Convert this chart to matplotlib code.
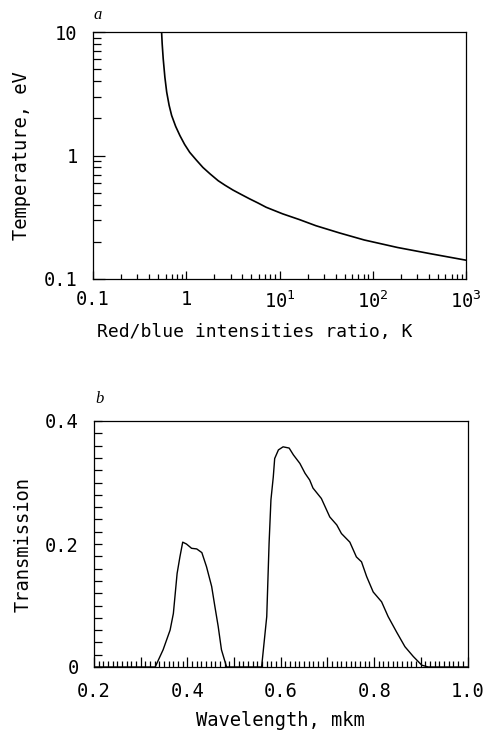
import numpy as np
import matplotlib
matplotlib.use("Agg")
import matplotlib.pyplot as plt
from matplotlib.ticker import FixedLocator, LogLocator, MultipleLocator, NullFormatter, FuncFormatter

plt.rcParams['font.family'] = ['DejaVu Sans Mono']
plt.rcParams['mathtext.fontset'] = 'custom'
plt.rcParams['mathtext.rm'] = 'DejaVu Sans Mono'

# ---- Panel a data: temperature vs red/blue intensity ratio ----
ratio_K = [0.544, 0.552, 0.566, 0.59, 0.617, 0.655, 0.697, 0.77, 0.855, 0.96, 1.09, 1.28, 1.51,
           1.8, 2.2, 2.6, 3.17, 3.9, 4.77, 5.9, 7.19, 10.8, 16.3, 24.6, 44.0, 81.0, 184.0, 420.0, 1000.0]
temperature_eV = [10.0, 8.0, 6.08, 4.3, 3.26, 2.55, 2.11, 1.72, 1.45, 1.23, 1.06, 0.92, 0.80,
                  0.71, 0.625, 0.575, 0.525, 0.483, 0.446, 0.412, 0.381, 0.337, 0.303, 0.270,
                  0.236, 0.207, 0.180, 0.160, 0.142]

# ---- Panel b data: filter transmission vs wavelength ----
wavelength_um = [0.20, 0.331, 0.348, 0.363, 0.370, 0.378, 0.384, 0.390, 0.398, 0.409, 0.420, 0.431,
                 0.441, 0.452, 0.459, 0.466, 0.473, 0.484, 0.559, 0.570, 0.575, 0.579, 0.584,
                 0.587, 0.595, 0.605, 0.618, 0.627, 0.641, 0.652, 0.662, 0.669, 0.687, 0.705,
                 0.720, 0.730, 0.748, 0.762, 0.773, 0.784, 0.798, 0.816, 0.830, 0.848, 0.866,
                 0.884, 0.902, 0.916, 1.00]
transmission = [0.0, 0.0, 0.028, 0.060, 0.087, 0.152, 0.179, 0.203, 0.200, 0.193, 0.192, 0.186,
                0.163, 0.131, 0.098, 0.066, 0.028, 0.0, 0.0, 0.082, 0.201, 0.272, 0.309,
                0.339, 0.353, 0.358, 0.356, 0.345, 0.331, 0.315, 0.304, 0.291, 0.274, 0.244,
                0.231, 0.217, 0.203, 0.179, 0.171, 0.147, 0.122, 0.106, 0.082, 0.057, 0.033,
                0.017, 0.003, 0.0, 0.0]

xticks_a = [0.1, 1, 10, 100, 1000]
xticklabels_a = ['0.1', '1', r'$\mathregular{10^{1}}$', r'$\mathregular{10^{2}}$', r'$\mathregular{10^{3}}$']
yticks_a = [0.1, 1, 10]
yticklabels_a = ['0.1', '1', '10']

W, H = 486, 737
fig = plt.figure(figsize=(W / 100, H / 100), dpi=100)

def box(l, t, r, b):
    return [l / W, 1 - b / H, (r - l) / W, (b - t) / H]

lw = 0.9
fs = 13.5

# ---------- panel a ----------
ax1 = fig.add_axes(box(93, 32, 466, 279))
ax1.plot(ratio_K, temperature_eV, color='black', lw=1.2)
ax1.set_xscale('log')
ax1.set_yscale('log')
ax1.set_xlim(0.1, 1000)
ax1.set_ylim(0.1, 10)
ax1.xaxis.set_major_locator(FixedLocator(xticks_a))
ax1.set_xticklabels(xticklabels_a)
ax1.xaxis.set_minor_locator(LogLocator(base=10, subs=np.arange(2, 10)))
ax1.xaxis.set_minor_formatter(NullFormatter())
ax1.yaxis.set_major_locator(FixedLocator(yticks_a))
ax1.set_yticklabels(yticklabels_a)
ax1.yaxis.set_minor_locator(LogLocator(base=10, subs=np.arange(2, 10)))
ax1.yaxis.set_minor_formatter(NullFormatter())
ax1.tick_params(axis='x', which='major', direction='in', length=5.5, width=lw, pad=8, labelsize=fs)
ax1.tick_params(axis='x', which='minor', direction='in', length=3.5, width=lw)
ax1.tick_params(axis='y', which='major', direction='in', length=8.5, width=lw, pad=11, labelsize=fs)
ax1.tick_params(axis='y', which='minor', direction='in', length=6, width=lw)
for s in ax1.spines.values():
    s.set_linewidth(lw)
ax1.set_xlabel('Red/blue intensities ratio, K', fontsize=13)
ax1.xaxis.set_label_coords(0.434, -0.178)
ax1.set_ylabel('Temperature, eV', fontsize=fs)
ax1.yaxis.set_label_coords(-0.167, 0.5)
fig.text(93 / W, 1 - 19 / H, 'a', fontsize=12, family='Liberation Serif', style='italic',
         ha='left', va='baseline')

# ---------- panel b ----------
ax2 = fig.add_axes(box(94, 421, 467.5, 667))
ax2.plot(wavelength_um, transmission, color='black', lw=1.0)
ax2.set_xlim(0.2, 1.0)
ax2.set_ylim(0, 0.4)
ax2.xaxis.set_major_locator(MultipleLocator(0.1))
ax2.xaxis.set_minor_locator(MultipleLocator(0.01))
ax2.xaxis.set_major_formatter(FuncFormatter(
    lambda v, p: ('%.1f' % v) if abs(round(v * 10) % 2) == 0 else ''))
ax2.yaxis.set_major_locator(MultipleLocator(0.1))
ax2.yaxis.set_minor_locator(MultipleLocator(0.02))
ax2.yaxis.set_major_formatter(FuncFormatter(
    lambda v, p: ('0' if abs(v) < 1e-9 else '%.1f' % v) if abs(round(v * 10) % 2) == 0 else ''))
ax2.tick_params(axis='x', which='major', direction='in', length=7, width=lw, pad=11, labelsize=fs)
ax2.tick_params(axis='x', which='minor', direction='in', length=4.5, width=lw)
ax2.tick_params(axis='y', which='major', direction='in', length=6, width=lw, pad=11, labelsize=fs)
ax2.tick_params(axis='y', which='minor', direction='in', length=6, width=lw)
for s in ax2.spines.values():
    s.set_linewidth(lw)
ax2.set_xlabel('Wavelength, mkm', fontsize=fs)
ax2.xaxis.set_label_coords(0.5, -0.18)
ax2.set_ylabel('Transmission', fontsize=fs)
ax2.yaxis.set_label_coords(-0.165, 0.5)
fig.text(95 / W, 1 - 403 / H, 'b', fontsize=12, family='Liberation Serif', style='italic',
         ha='left', va='baseline')

fig.savefig('out.png', dpi=100)
